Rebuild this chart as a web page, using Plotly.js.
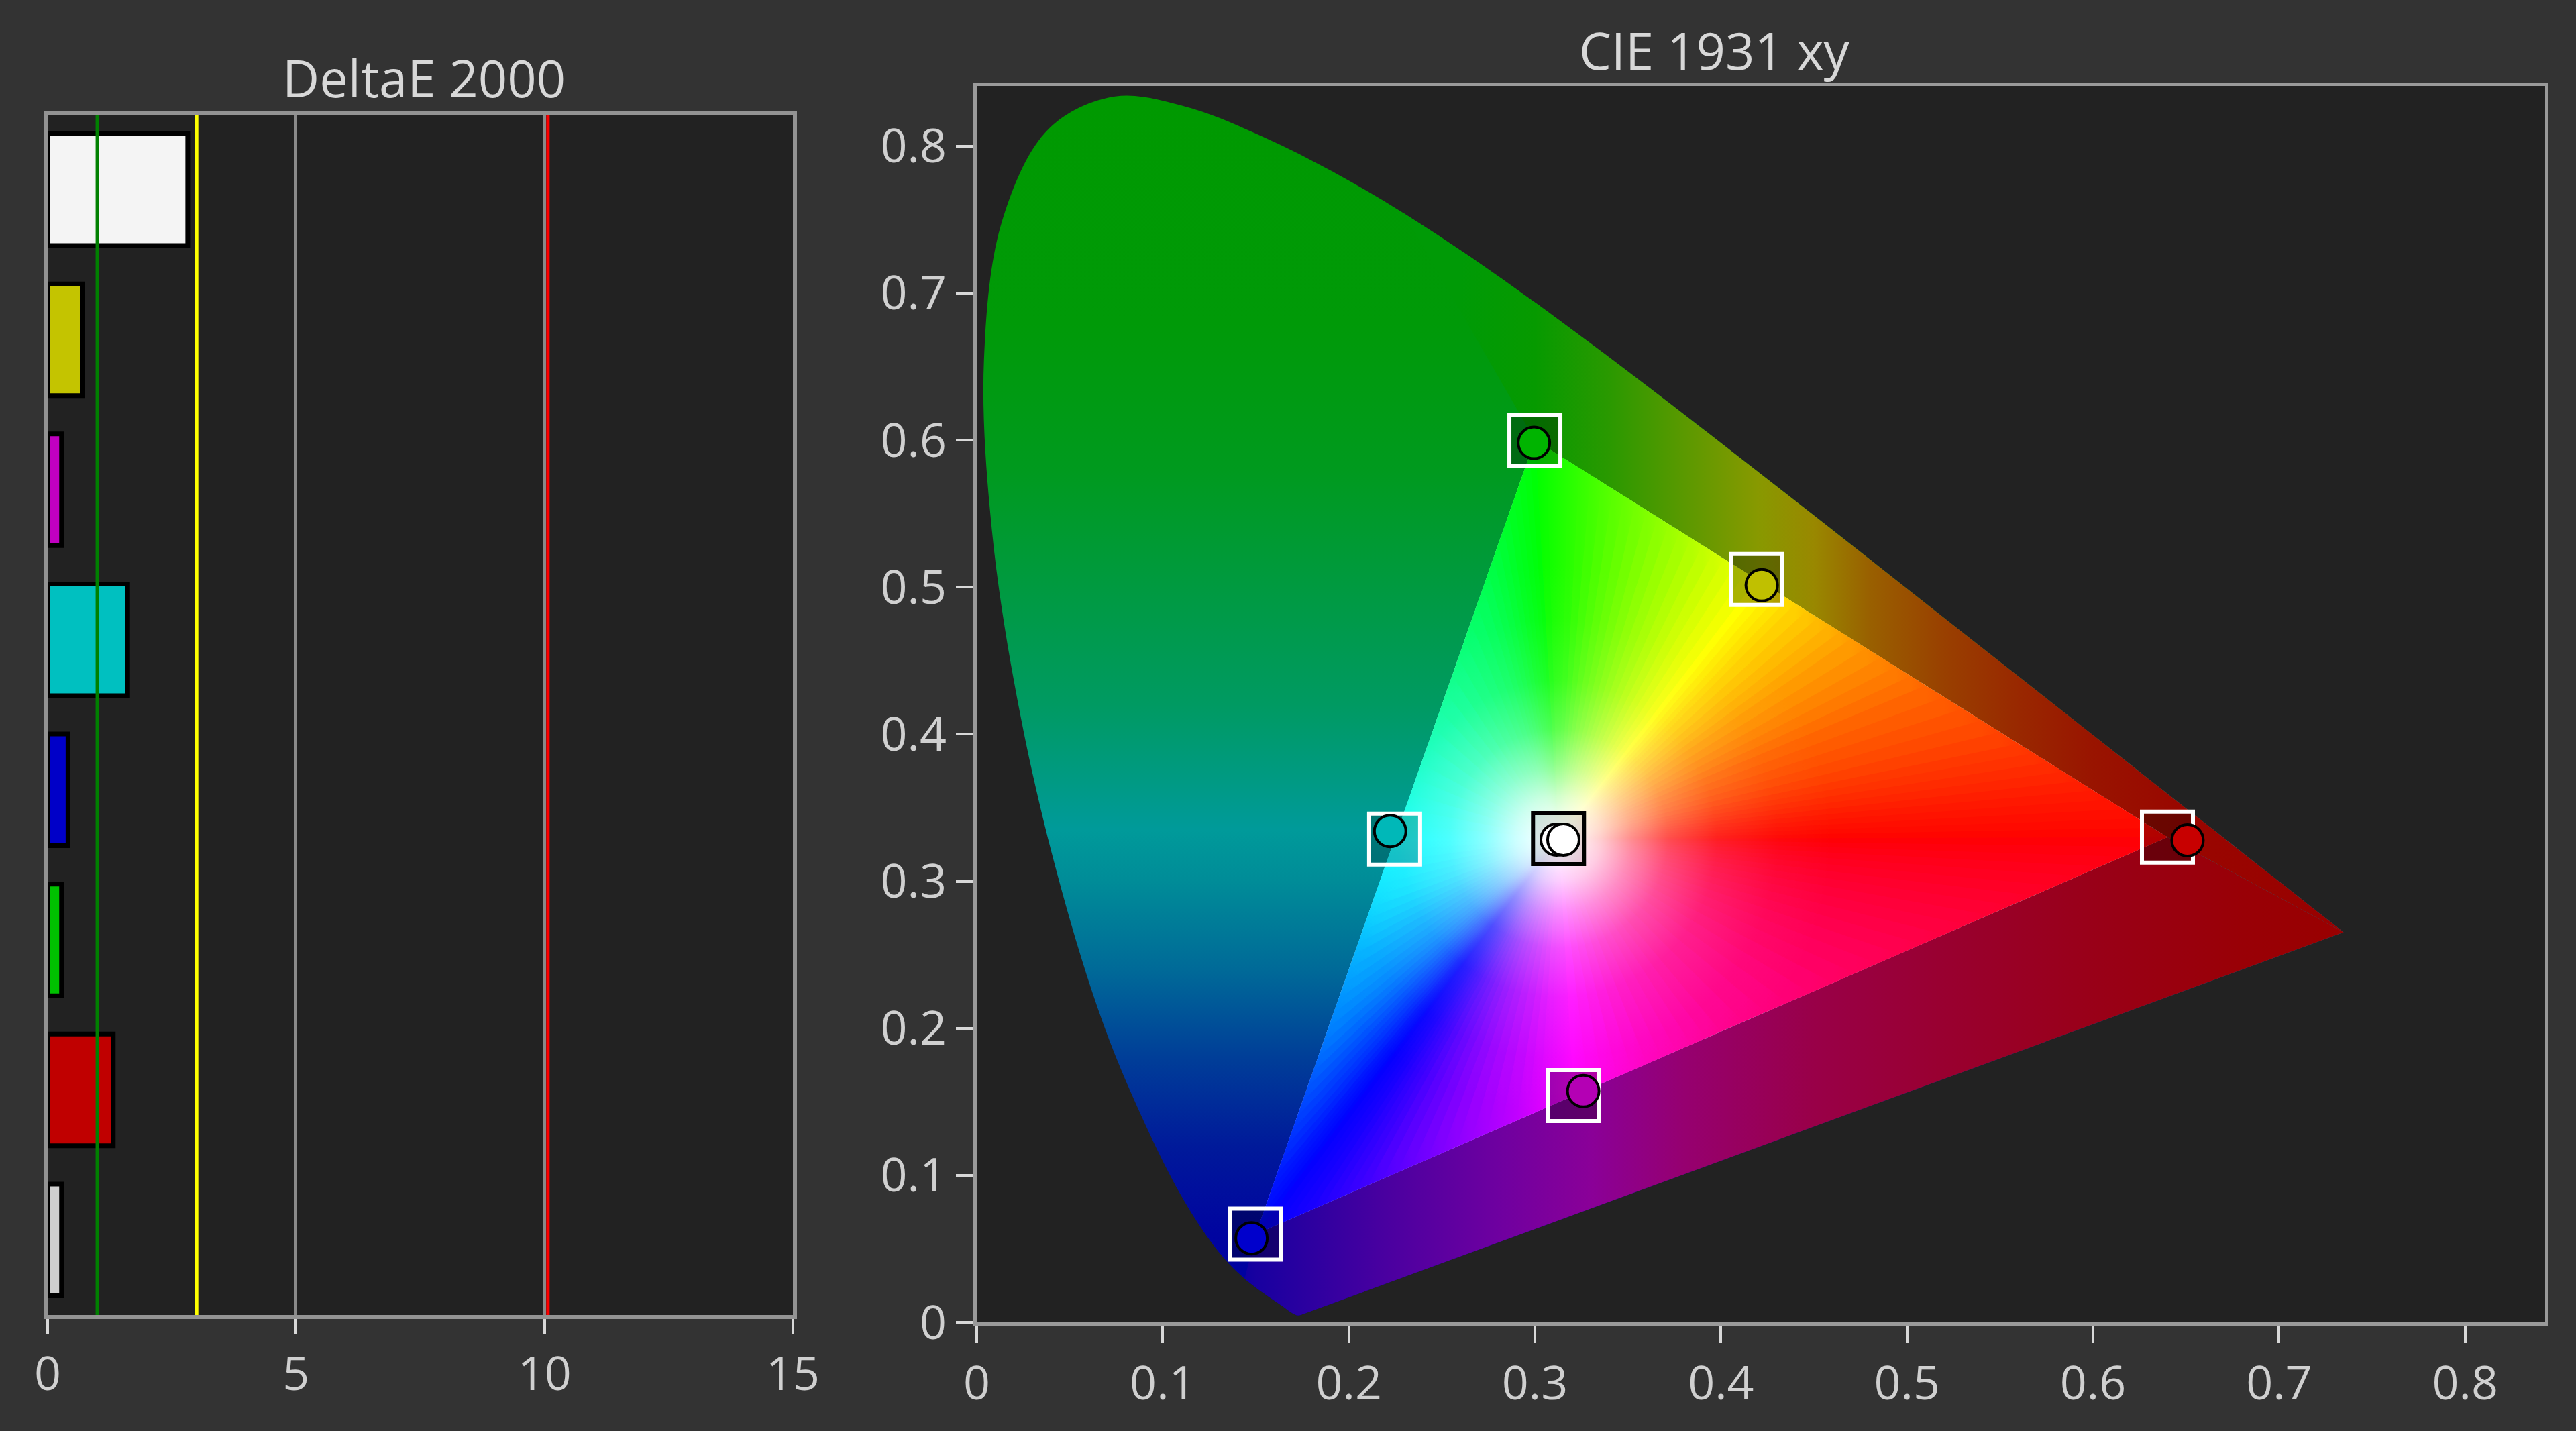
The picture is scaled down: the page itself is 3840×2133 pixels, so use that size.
<!DOCTYPE html>
<html>
<head>
<meta charset="utf-8">
<script src="https://cdn.plot.ly/plotly-3.0.1.min.js"></script>
<style>
html,body{margin:0;padding:0;background:#333333;}
#chart{width:3840px;height:2133px;}
</style>
</head>
<body>
<div id="chart"></div>
<script>
// ---------------- DeltaE 2000 (left panel) ----------------
const patchNames = ['White','Yellow','Magenta','Cyan','Blue','Green','Red','Gray'];
const deltaE = [2.82, 0.70, 0.28, 1.61, 0.41, 0.28, 1.32, 0.28];
const barColors = ['#f4f4f4','#c4c400','#c000c0','#00c0c0','#0000c8','#00c000','#c00000','#cfcfcf'];
const thresholdValues = [1, 3, 10.07];
const thresholdColors = ['#008000','#ffff00','#ff0000'];
const deTicks = [0, 5, 10, 15];
const deTickText = ['0','5','10','15'];

// ---------------- CIE 1931 xy (right panel) ----------------
const locusNm = [380,385,390,395,400,405,410,415,420,425,430,435,440,445,450,455,460,465,470,475,480,485,490,495,500,505,510,515,520,525,530,535,540,545,550,555,560,565,570,575,580,585,590,595,600,605,610,615,620,625,630,635,640,645,650,655,660,665,670,675,680,685,690,695,700];
const locusX = [0.1741,0.1740,0.1738,0.1736,0.1733,0.1730,0.1726,0.1721,0.1714,0.1703,0.1689,0.1669,0.1644,0.1611,0.1566,0.1510,0.1440,0.1355,0.1241,0.1096,0.0913,0.0687,0.0454,0.0235,0.0082,0.0039,0.0139,0.0389,0.0743,0.1142,0.1547,0.1929,0.2296,0.2658,0.3016,0.3373,0.3731,0.4087,0.4441,0.4788,0.5125,0.5448,0.5752,0.6029,0.6270,0.6482,0.6658,0.6801,0.6915,0.7006,0.7079,0.7140,0.7190,0.7230,0.7260,0.7283,0.7300,0.7311,0.7320,0.7327,0.7334,0.7340,0.7344,0.7346,0.7347];
const locusY = [0.0050,0.0050,0.0049,0.0049,0.0048,0.0048,0.0048,0.0048,0.0051,0.0058,0.0069,0.0086,0.0109,0.0138,0.0177,0.0227,0.0297,0.0399,0.0578,0.0868,0.1327,0.2007,0.2950,0.4127,0.5384,0.6548,0.7502,0.8120,0.8338,0.8262,0.8059,0.7816,0.7543,0.7243,0.6923,0.6589,0.6245,0.5896,0.5547,0.5202,0.4866,0.4544,0.4242,0.3965,0.3725,0.3514,0.3340,0.3197,0.3083,0.2993,0.2920,0.2859,0.2809,0.2770,0.2740,0.2717,0.2700,0.2689,0.2680,0.2673,0.2666,0.2660,0.2656,0.2654,0.2653];

// targets (Rec.709): Red, Green, Blue, Cyan, Magenta, Yellow, White
const targetNames = ['Red','Green','Blue','Cyan','Magenta','Yellow','White'];
const targetX = [0.64, 0.30, 0.15, 0.2246, 0.3209, 0.4193, 0.3127];
const targetY = [0.33, 0.60, 0.06, 0.3287, 0.1542, 0.5053, 0.3290];
const targetLineColors = ['#ffffff','#ffffff','#ffffff','#ffffff','#ffffff','#ffffff','#000000'];
const targetFill = ['rgba(0,0,0,0.3)','rgba(0,0,0,0.3)','rgba(0,0,0,0.3)','rgba(0,0,0,0.22)','rgba(0,0,0,0.3)','rgba(0,0,0,0.3)','rgba(0,0,0,0.1)'];

// measured points (same order as the bars)
const measuredX = [0.3117, 0.4219, 0.3260, 0.2222, 0.1477, 0.2995, 0.6508, 0.3153];
const measuredY = [0.3283, 0.5014, 0.1573, 0.3341, 0.0572, 0.5982, 0.3279, 0.3283];
const measuredColors = ['#ffffff','#c0c000','#b400b4','#00b8b8','#0000cc','#00b400','#c80000','#ffffff'];

// colour shading of the diagram (decoration)
const locusShadeY = [0, 0.06, 0.12, 0.18, 0.24, 0.30, 0.335, 0.37, 0.42, 0.50, 0.58, 0.68, 0.834];
const locusShadeColors = ['#0000a0','#0004a0','#001a9a','#003e98','#006a98','#008c98','#009a9a','#009a82','#009a62','#009a40','#009a1e','#009a08','#009900'];
const bandTopX = [0.26, 0.30, 0.34, 0.38, 0.42, 0.45, 0.48, 0.52, 0.56, 0.60, 0.65, 0.7347];
const bandTopColors = ['#009a06','#069a00','#2a9900','#5a9900','#889900','#998800','#996000','#994000','#992800','#991400','#990600','#990000'];
const bandBottomX = [0.144, 0.15, 0.22, 0.28, 0.33, 0.38, 0.45, 0.52, 0.60, 0.68, 0.7347];
const bandBottomColors = ['#1000a0','#1800a0','#4a00a0','#6e00a0','#8a0098','#960070','#990048','#990030','#990018','#990006','#990000'];
// hue read along the edges of the gamut triangle, clockwise from green
const rimX = [0.30,0.33,0.36,0.39,0.4193,0.44,0.47,0.51,0.56,0.60,0.64,0.58,0.52,0.46,0.40,0.36,0.3209,0.29,0.25,0.21,0.18,0.15,0.1611,0.1750,0.1889,0.2028,0.2139,0.2246,0.2389,0.2556,0.2722,0.2861];
const rimY = [0.60,0.5762,0.5524,0.5285,0.5053,0.4888,0.4650,0.4332,0.3935,0.3618,0.33,0.2969,0.2639,0.2308,0.1978,0.1757,0.1542,0.1371,0.1151,0.0931,0.0765,0.06,0.10,0.15,0.20,0.25,0.29,0.3287,0.38,0.44,0.50,0.55];
const rimColors = ['#00ff00','#40ff00','#80ff00','#c0ff00','#ffff00','#ffd000','#ff9a00','#ff6400','#ff3800','#ff1800','#ff0000','#ff0020','#ff0040','#ff0064','#ff0090','#ff00c0','#ff00ff','#c000ff','#8000ff','#4000ff','#1800ff','#0000ff','#0018ff','#0048ff','#0080ff','#00b0ff','#00e0ff','#00ffff','#00ffc0','#00ff80','#00ff50','#00ff20'];
const glowStops = [0, 0.03, 0.07, 0.12, 0.18, 0.26, 0.36, 0.45, 1];
const glowAlpha = [1, 0.95, 0.8, 0.55, 0.3, 0.12, 0.03, 0, 0];

const cieTicks = [0,0.1,0.2,0.3,0.4,0.5,0.6,0.7,0.8];
const cieTickText = ['0','0.1','0.2','0.3','0.4','0.5','0.6','0.7','0.8'];

// ---------------- layout geometry ----------------
const W_PX = 3840, H_PX = 2133;
const dom1x = [71/W_PX, 1182/W_PX], dom1y = [1-1960/H_PX, 1-171/H_PX];
const dom2x = [1456/W_PX, 3794/W_PX], dom2y = [1-1971/H_PX, 1-128/H_PX];
const xRange2 = [0, 0.843], yRange2 = [0, 0.841];
const pxX = (dom2x[1]-dom2x[0])*W_PX/(xRange2[1]-xRange2[0]);
const pxY = (dom2y[1]-dom2y[0])*H_PX/(yRange2[1]-yRange2[0]);
const SHADE_STEPS = 5; // smoothing steps between read rim colours

function scaleFrom(stops, colors){
  const a = stops[0], b = stops[stops.length-1];
  return stops.map((s,i)=>[(s-a)/(b-a), colors[i]]);
}
function poly(xs, ys, grad, solid, spline){
  const t = {type:'scatter', mode:'lines', x:xs, y:ys, xaxis:'x2', yaxis:'y2',
    fill:'toself', line:{width:0, simplify:false, shape: spline ? 'spline' : 'linear', smoothing:1},
    hoverinfo:'skip', showlegend:false};
  if(grad) t.fillgradient = grad; else t.fillcolor = solid;
  return t;
}
function hexToRgb(h){ return [parseInt(h.slice(1,3),16), parseInt(h.slice(3,5),16), parseInt(h.slice(5,7),16)]; }
function mixColor(a, b, t){
  const A = hexToRgb(a), B = hexToRgb(b);
  return 'rgb(' + A.map((v,i)=>Math.round(v + (B[i]-v)*t)).join(',') + ')';
}

const traces = [];
// bars
traces.push({type:'bar', orientation:'h', x:deltaE, y:patchNames, xaxis:'x', yaxis:'y',
  width:0.744, marker:{color:barColors, line:{color:'#000000', width:7}},
  hoverinfo:'skip', showlegend:false});

// horseshoe
traces.push(poly(locusX, locusY, {type:'vertical', start:locusShadeY[0], stop:locusShadeY[locusShadeY.length-1],
  colorscale:scaleFrom(locusShadeY, locusShadeColors)}, null, true));

const iR = 0, iG = 1, iB = 2, iW = 6;
const i540 = locusNm.indexOf(540), i460 = locusNm.indexOf(460), iEnd = locusNm.length-1;
// upper band (between green-red edge and locus)
{
  const xs = [targetX[iG], targetX[iR]], ys = [targetY[iG], targetY[iR]];
  for(let i=iEnd;i>=i540;i--){ xs.push(locusX[i]); ys.push(locusY[i]); }
  traces.push(poly(xs, ys, {type:'horizontal', start:bandTopX[0], stop:bandTopX[bandTopX.length-1],
    colorscale:scaleFrom(bandTopX, bandTopColors)}));
}
// lower band (between blue-red edge and purple line)
{
  const xs = [targetX[iB], targetX[iR], locusX[iEnd]], ys = [targetY[iB], targetY[iR], locusY[iEnd]];
  for(let i=0;i<=i460;i++){ xs.push(locusX[i]); ys.push(locusY[i]); }
  traces.push(poly(xs, ys, {type:'horizontal', start:bandBottomX[0], stop:bandBottomX[bandBottomX.length-1],
    colorscale:scaleFrom(bandBottomX, bandBottomColors)}));
}
// base of gamut triangle
traces.push(poly([targetX[iG], targetX[iR], targetX[iB]], [targetY[iG], targetY[iR], targetY[iB]], null, '#ffffff'));

// vivid shading: thin wedges from the white point to the rim (shading only)
const Wx = targetX[iW], Wy = targetY[iW];
const shadeX = [], shadeY = [], shadeC = [];
for(let k=0;k<rimX.length;k++){
  const n = (k+1) % rimX.length;
  for(let s=0;s<SHADE_STEPS;s++){
    const t = s/SHADE_STEPS;
    shadeX.push(rimX[k] + (rimX[n]-rimX[k])*t);
    shadeY.push(rimY[k] + (rimY[n]-rimY[k])*t);
    shadeC.push(mixColor(rimColors[k], rimColors[n], t));
  }
}
const nS = shadeX.length;
for(let i=0;i<nS;i++){
  const j = (i+1) % nS;
  const hor = Math.abs(shadeX[j]-shadeX[i])*pxX >= Math.abs(shadeY[j]-shadeY[i])*pxY;
  const idx = [];
  if(i === 0) idx.push(nS-1);
  idx.push(i, j);
  if(i < nS-1) idx.push((i+2) % nS);
  traces.push(poly([Wx].concat(idx.map(k=>shadeX[k])), [Wy].concat(idx.map(k=>shadeY[k])), {
    type: hor ? 'horizontal' : 'vertical',
    start: hor ? shadeX[i] : shadeY[i],
    stop: hor ? shadeX[j] : shadeY[j],
    colorscale: [[0, shadeC[i]], [1, shadeC[j]]]
  }));
}
// white glow around the white point (zero-area spurs centre the fill box on the white point)
{
  const rX = targetX[iR] - Wx;
  const rY = rX*pxX/pxY;
  const Gx = targetX[iG], Gy = targetY[iG], Rx = targetX[iR], Ry = targetY[iR], Bx = targetX[iB], By = targetY[iB];
  const xs = [Gx, Rx, Bx, Wx - rX, Bx, Bx, Bx, Gx, Gx, Gx];
  const ys = [Gy, Ry, By, By, By, Wy - rY, By, Gy, Wy + rY, Gy];
  traces.push(poly(xs, ys, {type:'radial',
    colorscale: glowStops.map((s,i)=>[s, 'rgba(255,255,255,'+glowAlpha[i]+')'])}));
}
// target squares
traces.push({type:'scatter', mode:'markers', x:targetX, y:targetY, xaxis:'x2', yaxis:'y2',
  marker:{symbol:'square', size:76, color:targetFill, line:{color:targetLineColors, width:6}},
  hoverinfo:'skip', showlegend:false, cliponaxis:false});
// measured circles
traces.push({type:'scatter', mode:'markers', x:measuredX, y:measuredY, xaxis:'x2', yaxis:'y2',
  marker:{symbol:'circle', size:47, color:measuredColors, line:{color:'#000000', width:4}},
  hoverinfo:'skip', showlegend:false, cliponaxis:false});

const tickFont = {family:'Open Sans, Noto Sans, sans-serif', size:70, color:'#d0d0d0'};
const frameColor = '#939393';

const layout = {
  width: W_PX, height: H_PX,
  paper_bgcolor:'#333333', plot_bgcolor:'#222222',
  margin:{l:0, r:0, t:0, b:0, pad:0},
  showlegend:false, hovermode:false,
  font:{family:'Open Sans, Noto Sans, sans-serif', color:'#d0d0d0', size:70},
  xaxis:{domain:dom1x, range:[0,15], tickvals:deTicks, ticktext:deTickText, ticks:'outside', ticklen:22, tickwidth:4,
    tickcolor:'#d8d8d8', showgrid:true, gridcolor:'#8a8a8a', gridwidth:4, zeroline:false,
    showline:true, mirror:true, linecolor:frameColor, linewidth:6, tickfont:tickFont, automargin:false, fixedrange:true},
  yaxis:{domain:dom1y, type:'category', range:[7.5,-0.5], showticklabels:false, ticks:'', showgrid:false,
    zeroline:false, showline:true, mirror:true, linecolor:frameColor, linewidth:6, automargin:false, fixedrange:true},
  xaxis2:{domain:dom2x, anchor:'y2', range:xRange2, tickvals:cieTicks, ticktext:cieTickText, ticks:'outside',
    ticklen:26, tickwidth:4, tickcolor:'#d8d8d8', showgrid:false, zeroline:false, showline:true, mirror:true,
    linecolor:'#9a9a9a', linewidth:5, tickfont:tickFont, automargin:false, fixedrange:true},
  yaxis2:{domain:dom2y, anchor:'x2', range:yRange2, tickvals:cieTicks, ticktext:cieTickText, ticks:'outside',
    ticklen:26, tickwidth:4, tickcolor:'#d8d8d8', showgrid:false, zeroline:false, showline:true, mirror:true,
    linecolor:'#9a9a9a', linewidth:5, tickfont:tickFont, automargin:false, fixedrange:true},
  shapes: thresholdValues.map((v,i)=>({type:'line', xref:'x', yref:'y domain', x0:v, x1:v, y0:0, y1:1,
    line:{color:thresholdColors[i], width:5}, layer:'above'})),
  annotations:[
    {text:'DeltaE 2000', xref:'paper', yref:'paper', x:632/W_PX, y:1-116/H_PX, xanchor:'center', yanchor:'middle',
     showarrow:false, font:{family:'Open Sans, Noto Sans, sans-serif', size:76, color:'#d8d8d8'}},
    {text:'CIE 1931 xy', xref:'paper', yref:'paper', x:2555/W_PX, y:1-75/H_PX, xanchor:'center', yanchor:'middle',
     showarrow:false, font:{family:'Open Sans, Noto Sans, sans-serif', size:76, color:'#d8d8d8'}}
  ]
};

Plotly.newPlot('chart', traces, layout, {staticPlot:true, displayModeBar:false});
</script>
</body>
</html>
